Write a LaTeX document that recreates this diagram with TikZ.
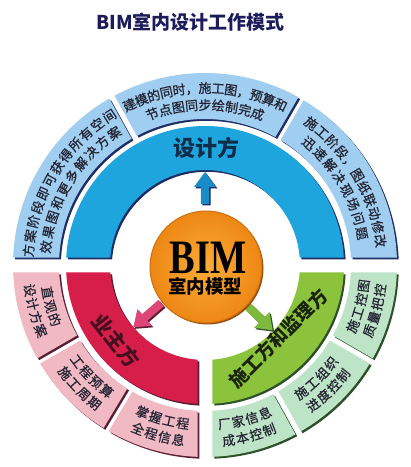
\documentclass[tikz,border=0pt]{standalone}
\usepackage{fontspec}
\setmainfont{Liberation Serif}
\newfontfamily\cjk{Noto Sans CJK SC}
\newfontfamily\cjkm[FakeBold=0.6]{Noto Sans CJK SC}
\definecolor{blueRing}{RGB}{30,165,222}
\definecolor{blueBox}{RGB}{160,206,240}
\definecolor{blueShadow}{RGB}{30,45,100}
\definecolor{redRing}{RGB}{215,30,75}
\definecolor{pinkBox}{RGB}{240,185,195}
\definecolor{redShadow}{RGB}{90,30,50}
\definecolor{greenRing}{RGB}{140,195,60}
\definecolor{mintBox}{RGB}{190,228,200}
\definecolor{greenShadow}{RGB}{45,80,40}
\definecolor{orangeIn}{RGB}{250,172,55}
\definecolor{orangeOut}{RGB}{238,135,20}
\definecolor{orangeEdge}{RGB}{205,110,20}
\definecolor{titleCol}{RGB}{28,28,90}
\definecolor{txtCol}{RGB}{35,35,50}
\definecolor{blueArrow}{RGB}{25,140,200}
\definecolor{redArrow}{RGB}{222,70,120}
\definecolor{greenArrow}{RGB}{125,185,60}
\newcommand\annsec[7]{%
  \pgfmathsetmacro\secOA{#4+asin(#6/#3)}%
  \pgfmathsetmacro\secOB{#5-asin(#7/#3)}%
  \pgfmathsetmacro\secIA{#4+asin(#6/#2)}%
  \pgfmathsetmacro\secIB{#5-asin(#7/#2)}%
  \path[#1] (\secOA:#3pt) arc[start angle=\secOA, end angle=\secOB, radius=#3pt]
    -- (\secIB:#2pt) arc[start angle=\secIB, end angle=\secIA, radius=#2pt] -- cycle;}
\newcommand\seg[8]{%
  \annsec{fill=#2, shift={(1.8pt,-1.8pt)}}{#3}{#4}{#5}{#6}{#7}{#8}%
  \annsec{fill=#1}{#3}{#4}{#5}{#6}{#7}{#8}}
\newcommand\arcline[6]{%
  \pgfmathsetmacro\secStep{#4/#2*180/pi}%
  \foreach \secC [count=\secn] in {#6}{\xdef\secN{\secn}}%
  \foreach \secC [count=\seci] in {#6}{%
    \pgfmathsetmacro\secAng{#3+#5*(\seci-(\secN+1)/2)*\secStep}%
    \pgfmathsetmacro\secRot{\secAng+#5*90}%
    \node[chr, rotate=\secRot] (#1-\seci) at (\secAng:#2pt) {\secC};}}
\newcommand\barrow[4]{%
  \path[#1, rotate=#2] (#3,-4.2) -- ({#4-15},-4.2) -- ({#4-15},-11) -- (#4,0)
    -- ({#4-15},11) -- ({#4-15},4.2) -- (#3,4.2) -- cycle;}
\tikzset{
  chr/.style={inner sep=0pt, text=txtCol, font=\cjkm\fontsize{13}{13}\selectfont,
    text height=11.4pt, text depth=1.6pt},
  ringlabel/.style={inner sep=0pt, font=\cjk\bfseries\fontsize{#1}{#1}\selectfont,
    text height=0.88em, text depth=0.12em},
}
\begin{document}
\begin{tikzpicture}[x=1pt,y=1pt]
\useasboundingbox (0,0) rectangle (411,467);
\fill[white] (0,0) rectangle (411,467);
\node[inner sep=0pt, text=titleCol, font=\cjk\bfseries\fontsize{19}{19}\selectfont]
  (title) at (190.7,444.5) {BIM室内设计工作模式};
\begin{scope}[shift={(205,202)}]
  % inner ring
  \seg{blueRing}{blueShadow}{95}{139}{0}{180}{7.5}{7.5}
  \seg{redRing}{redShadow}{95}{139}{180}{270}{7.5}{7.5}
  \seg{greenRing}{greenShadow}{95}{139}{270}{360}{7.5}{7.5}
  % outer boxes
  \seg{blueBox}{blueShadow}{146}{192}{119}{180}{3}{7.5}
  \seg{blueBox}{blueShadow}{146}{192}{60}{119}{3}{3}
  \seg{blueBox}{blueShadow}{146}{192}{0}{60}{7.5}{3}
  \seg{pinkBox}{redShadow}{146}{192}{180}{210}{7.5}{3}
  \seg{pinkBox}{redShadow}{146}{192}{210}{239}{3}{3}
  \seg{pinkBox}{redShadow}{146}{192}{239}{270}{3}{7.5}
  \seg{mintBox}{greenShadow}{146}{192}{270}{299}{7.5}{3}
  \seg{mintBox}{greenShadow}{146}{192}{299}{330}{3}{3}
  \seg{mintBox}{greenShadow}{146}{192}{330}{360}{3}{7.5}
  % outer texts
  \arcline{a1}{177}{149}{14.8}{-1}{方,案,阶,段,即,可,获,得,所,有,空,间}
  \arcline{a2}{160}{149}{15.2}{-1}{效,果,图,和,更,多,解,决,方,案}
  \arcline{b1}{177}{90}{13.0}{-1}{建,模,的,同,时,，,施,工,图,，,预,算,和}
  \arcline{b2}{160}{90}{13.4}{-1}{节,点,图,同,步,绘,制,完,成}
  \arcline{c1}{177}{30.5}{14.0}{-1}{施,工,阶,段,，,图,纸,联,动,修,改}
  \arcline{c2}{160}{30.5}{15.2}{-1}{迅,速,解,决,现,场,问,题}
  \arcline{d1}{160}{195}{14}{1}{直,观,的}
  \arcline{d2}{177}{195}{14}{1}{设,计,方,案}
  \arcline{e1}{160}{224.5}{14}{1}{工,程,预,算}
  \arcline{e2}{177}{224.5}{14}{1}{施,工,周,期}
  \arcline{f1}{160}{254.5}{14}{1}{掌,握,工,程}
  \arcline{f2}{177}{254.5}{14}{1}{全,程,信,息}
  \arcline{g1}{160}{284.5}{14}{1}{厂,家,信,息}
  \arcline{g2}{177}{284.5}{14}{1}{成,本,控,制}
  \arcline{h1}{160}{314.5}{14}{1}{施,工,组,织}
  \arcline{h2}{177}{314.5}{14}{1}{进,度,控,制}
  \arcline{k1}{160}{345}{14}{1}{施,工,控,图}
  \arcline{k2}{177}{345}{14}{1}{质,量,把,控}
  % ring labels
  \node[ringlabel=22, text={rgb,255:red,15;green,45;blue,75}] (design) at (1,112) {设计方};
  \node[ringlabel=20.5, text={rgb,255:red,70;green,15;blue,30}, rotate=-52] (owner) at (220.3:121pt) {业主方};
  \node[ringlabel=18.5, text={rgb,255:red,25;green,35;blue,15}, rotate=45] (builder) at (315:107pt) {施工方和监理方};
  % arrows
  \barrow{fill=blueShadow, shift={(1.5,-1.5)}}{90}{61}{93}
  \barrow{fill=blueArrow}{90}{61}{93}
  \barrow{fill=redShadow, shift={(1.5,-1.5)}}{221}{58}{95}
  \barrow{fill=redArrow}{221}{58}{95}
  \barrow{fill=greenShadow, shift={(1.5,-1.5)}}{316}{60}{94}
  \barrow{fill=greenArrow}{316}{60}{94}
  % center
  \fill[orangeEdge!70!black] (2.5,-3.5) circle (56pt);
  \node[circle, minimum size=112pt, inner sep=0pt, draw=orangeEdge, line width=1pt,
    inner color=orangeIn, outer color=orangeOut] (core) at (1,-2) {};
  \node[inner sep=0pt, anchor=base, text depth=0pt, font=\bfseries\fontsize{48}{48}\selectfont] (bim) at (3,-8.3) {\scalebox{0.8}[1]{BIM}};
  \node[ringlabel=18.5, text depth=0pt, anchor=base] (model) at (0,-28.5) {室内模型};
\end{scope}
\end{tikzpicture}
\end{document}
